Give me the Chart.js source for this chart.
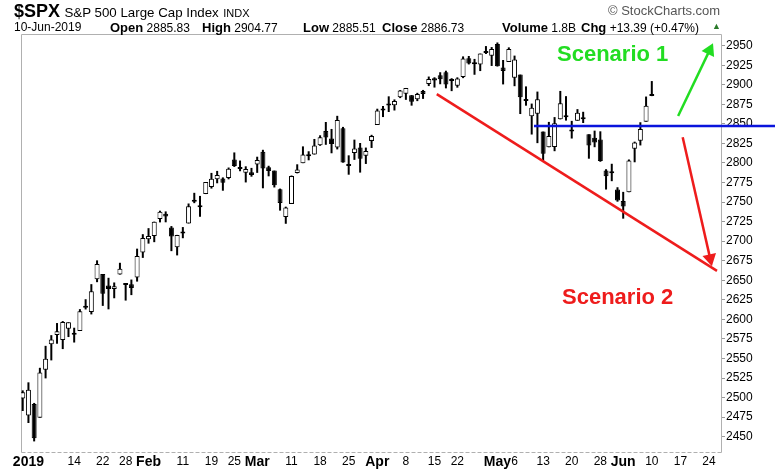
<!DOCTYPE html>
<html><head><meta charset="utf-8">
<script src="https://cdn.jsdelivr.net/npm/chart.js@4.4.1/dist/chart.umd.min.js"></script>
<style>
html,body{margin:0;padding:0;background:#fff;}
#wrap{position:relative;width:775px;height:470px;overflow:hidden;font-family:Arial,"Liberation Sans",sans-serif;color:#000;}
#c{position:absolute;left:0;top:0;}
.t{position:absolute;white-space:nowrap;line-height:1;}
.l2{font-size:12px;top:20.5px;}
.b{font-weight:bold;font-size:13px;}
.v{font-size:12px;}
.sc{position:absolute;white-space:nowrap;line-height:1;font-weight:bold;font-size:22px;}
</style></head><body>
<div id="wrap">
<canvas id="c" width="775" height="470"></canvas>
<div class="t" style="left:14px;top:2px;"><span style="font-weight:bold;font-size:18px">$SPX</span> <span style="font-size:13.3px">S&amp;P 500 Large Cap Index</span> <span style="font-size:11px">INDX</span></div>
<div class="t" style="left:608px;top:4px;font-size:13px;color:#555;">© StockCharts.com</div>
<div class="t l2" style="left:14px;"><span class="v">10-Jun-2019</span></div>
<div class="t l2" style="left:110px;"><span class="b">Open</span> <span class="v">2885.83</span></div>
<div class="t l2" style="left:202px;"><span class="b">High</span> <span class="v">2904.77</span></div>
<div class="t l2" style="left:303px;"><span class="b">Low</span> <span class="v">2885.51</span></div>
<div class="t l2" style="left:382px;"><span class="b">Close</span> <span class="v">2886.73</span></div>
<div class="t l2" style="left:502px;"><span class="b">Volume</span> <span class="v">1.8B</span></div>
<div class="t l2" style="left:581px;"><span class="b">Chg</span> <span class="v">+13.39 (+0.47%)</span></div>
<div class="t" style="left:712px;top:22px;font-size:9px;color:#2a7a2a;">▲</div>
<div class="sc" style="left:557px;top:43px;color:#22dd22;">Scenario 1</div>
<div class="sc" style="left:562px;top:286px;color:#ee1c1c;">Scenario 2</div>
</div>
<script>
const DATES = ['2018-12-31',
'2019-01-02','2019-01-03','2019-01-04','2019-01-07','2019-01-08','2019-01-09','2019-01-10','2019-01-11','2019-01-14','2019-01-15','2019-01-16','2019-01-17','2019-01-18','2019-01-22','2019-01-23','2019-01-24','2019-01-25','2019-01-28','2019-01-29','2019-01-30','2019-01-31',
'2019-02-01','2019-02-04','2019-02-05','2019-02-06','2019-02-07','2019-02-08','2019-02-11','2019-02-12','2019-02-13','2019-02-14','2019-02-15','2019-02-19','2019-02-20','2019-02-21','2019-02-22','2019-02-25','2019-02-26','2019-02-27','2019-02-28',
'2019-03-01','2019-03-04','2019-03-05','2019-03-06','2019-03-07','2019-03-08','2019-03-11','2019-03-12','2019-03-13','2019-03-14','2019-03-15','2019-03-18','2019-03-19','2019-03-20','2019-03-21','2019-03-22','2019-03-25','2019-03-26','2019-03-27','2019-03-28','2019-03-29',
'2019-04-01','2019-04-02','2019-04-03','2019-04-04','2019-04-05','2019-04-08','2019-04-09','2019-04-10','2019-04-11','2019-04-12','2019-04-15','2019-04-16','2019-04-17','2019-04-18','2019-04-22','2019-04-23','2019-04-24','2019-04-25','2019-04-26','2019-04-29','2019-04-30',
'2019-05-01','2019-05-02','2019-05-03','2019-05-06','2019-05-07','2019-05-08','2019-05-09','2019-05-10','2019-05-13','2019-05-14','2019-05-15','2019-05-16','2019-05-17','2019-05-20','2019-05-21','2019-05-22','2019-05-23','2019-05-24','2019-05-28','2019-05-29','2019-05-30','2019-05-31',
'2019-06-03','2019-06-04','2019-06-05','2019-06-06','2019-06-07','2019-06-10'];

const OPEN = [2498.94,
2476.96,2491.92,2474.33,2535.61,2568.11,2580.00,2573.51,2588.11,2580.31,2585.10,2614.75,2609.28,2651.27,2657.88,2643.48,2638.84,2657.44,2644.97,2644.89,2653.62,2685.49,
2702.32,2706.49,2728.34,2735.05,2717.53,2692.36,2712.40,2722.61,2750.30,2743.50,2760.24,2769.28,2779.05,2780.24,2780.67,2804.35,2792.36,2787.50,2788.11,
2798.22,2814.37,2794.41,2790.27,2766.53,2730.79,2747.61,2787.34,2799.78,2810.38,2810.79,2822.61,2840.76,2831.34,2819.72,2844.52,2796.01,2812.66,2819.72,2809.40,2828.27,
2848.63,2868.24,2876.09,2873.99,2884.16,2888.46,2886.58,2881.37,2891.92,2900.86,2908.32,2912.26,2916.04,2904.81,2898.78,2909.99,2934.00,2928.99,2925.81,2940.58,2937.14,
2952.33,2922.16,2929.21,2908.89,2913.03,2879.61,2859.84,2863.10,2840.19,2820.12,2820.38,2855.80,2858.60,2841.94,2854.02,2856.06,2836.70,2832.41,2830.03,2790.25,2786.94,2766.15,
2751.53,2762.64,2818.09,2828.51,2852.87,2885.83];

const HIGH = [2509.24,
2519.49,2493.14,2538.07,2566.16,2579.82,2595.32,2597.82,2596.27,2589.32,2613.08,2625.76,2645.06,2675.47,2657.88,2653.19,2647.20,2672.38,2644.97,2650.93,2690.44,2708.95,
2716.66,2724.99,2738.98,2738.08,2719.32,2708.07,2718.05,2748.19,2761.85,2757.90,2775.66,2787.33,2789.88,2781.58,2794.20,2813.49,2803.12,2795.76,2793.73,
2808.02,2816.88,2796.44,2790.27,2767.25,2744.13,2784.00,2798.32,2821.24,2815.00,2830.73,2835.41,2852.42,2843.54,2860.31,2846.16,2809.79,2829.87,2825.56,2819.71,2836.03,
2869.40,2872.90,2885.25,2881.28,2893.24,2895.95,2886.88,2889.71,2893.42,2910.54,2909.60,2916.06,2918.00,2908.40,2909.51,2936.31,2936.83,2933.10,2939.88,2949.52,2948.22,
2954.13,2931.68,2947.85,2937.32,2913.03,2897.96,2875.97,2891.31,2840.19,2852.54,2858.68,2892.15,2885.48,2853.86,2868.88,2865.47,2836.70,2841.36,2840.51,2792.03,2799.00,2768.98,
2763.07,2804.49,2827.28,2852.10,2884.97,2904.77];

const LOW = [2482.82,
2467.47,2443.96,2474.33,2524.56,2547.56,2568.89,2562.02,2577.40,2570.41,2585.10,2612.68,2606.36,2647.58,2617.27,2612.86,2627.01,2657.33,2624.06,2631.05,2648.34,2678.65,
2696.88,2698.75,2724.03,2724.15,2687.26,2681.83,2703.79,2722.61,2748.63,2731.23,2760.24,2767.29,2774.06,2764.55,2779.11,2794.99,2789.47,2775.13,2782.51,
2787.38,2767.66,2782.97,2768.69,2739.09,2722.27,2747.61,2786.73,2799.78,2803.46,2810.79,2821.99,2823.27,2812.43,2817.38,2800.47,2785.02,2803.99,2787.72,2798.77,2819.23,
2848.63,2858.75,2865.17,2867.14,2882.99,2880.78,2873.33,2879.13,2881.99,2898.37,2896.48,2900.71,2895.45,2891.90,2896.35,2908.53,2926.05,2912.84,2917.56,2939.35,2924.11,
2923.36,2900.50,2929.21,2898.21,2862.60,2873.28,2836.40,2825.39,2801.43,2820.12,2815.08,2855.80,2854.23,2831.29,2854.02,2851.11,2805.49,2820.19,2801.58,2766.06,2776.74,2750.52,
2728.81,2762.64,2800.92,2822.45,2852.87,2885.51];

const CLOSE = [2506.85,
2510.03,2447.89,2531.94,2549.69,2574.41,2584.96,2596.64,2596.26,2582.61,2610.30,2616.10,2635.96,2670.71,2632.90,2638.70,2642.33,2664.76,2643.85,2640.00,2681.05,2704.10,
2706.53,2724.87,2737.70,2731.61,2706.05,2707.88,2709.80,2744.73,2753.03,2745.73,2775.60,2779.76,2784.70,2774.88,2792.67,2796.11,2793.90,2792.38,2784.49,
2803.69,2792.81,2789.65,2771.45,2748.93,2743.07,2783.30,2791.52,2810.92,2808.48,2822.48,2832.94,2832.57,2824.23,2854.88,2800.71,2798.36,2818.46,2805.37,2815.44,2834.40,
2867.19,2867.24,2873.40,2879.39,2892.74,2895.77,2878.20,2888.21,2888.32,2907.41,2905.58,2907.06,2900.45,2905.03,2907.97,2933.68,2927.25,2926.17,2939.88,2943.03,2945.83,
2923.73,2917.52,2945.64,2932.47,2884.05,2879.42,2870.72,2881.40,2811.87,2834.41,2850.96,2876.32,2859.53,2840.23,2864.36,2856.27,2822.24,2826.06,2802.39,2783.02,2788.86,2752.06,
2744.45,2803.27,2826.15,2843.49,2873.34,2886.73];

// x-axis tick positions (trading-day index) and labels
const X_TICK_POS    = [1,9,14,18,22,28,33,37,41,47,52,57,62,67,72,76,83,86,91,96,101,105,110,115,120];
const X_TICK_LABELS = ['2019','14','22','28','Feb','11','19','25','Mar','11','18','25','Apr','8','15','22','May','6','13','20','28','Jun','10','17','24'];
const Y_TICKS = [2450,2475,2500,2525,2550,2575,2600,2625,2650,2675,2700,2725,2750,2775,2800,2825,2850,2875,2900,2925,2950];

// annotation lines (x = trading-day index, y = index level)
const TREND_X = [72.4, 121.4];   const TREND_Y = [2888, 2662];
const SUPPORT_X = [89.4, 131.6]; const SUPPORT_Y = [2847.3, 2847.3];
const UP_X = [114.6, 120.1];     const UP_Y = [2860, 2944];
const DOWN_X = [115.4, 120.2];   const DOWN_Y = [2833, 2678];

const pts = (xs, ys) => xs.map((x, i) => ({x: x, y: ys[i]}));

function arrowRot(c) {
  const d = c.dataset.data, xs = c.chart.scales.x, ys = c.chart.scales.y;
  const x0 = xs.getPixelForValue(d[0].x), y0 = ys.getPixelForValue(d[0].y);
  const x1 = xs.getPixelForValue(d[1].x), y1 = ys.getPixelForValue(d[1].y);
  return Math.atan2(x1 - x0, -(y1 - y0)) * 180 / Math.PI;
}

const frame = {
  id: 'frame',
  beforeDatasetsDraw(chart) {
    const a = chart.chartArea, ctx = chart.ctx;
    ctx.save();
    ctx.strokeStyle = '#b0b0b0';
    ctx.lineWidth = 1;
    ctx.beginPath();
    ctx.moveTo(Math.round(a.left) + 0.5, Math.round(a.bottom) + 0.5);
    ctx.lineTo(Math.round(a.left) + 0.5, Math.round(a.top) + 0.5);
    ctx.lineTo(Math.round(a.right) + 0.5, Math.round(a.top) + 0.5);
    ctx.lineTo(Math.round(a.right) + 0.5, Math.round(a.bottom) + 0.5);
    ctx.stroke();
    ctx.setLineDash([4, 2]);
    ctx.beginPath();
    ctx.moveTo(Math.round(a.left) + 0.5, Math.round(a.bottom) + 0.5);
    ctx.lineTo(Math.round(a.right) + 0.5, Math.round(a.bottom) + 0.5);
    ctx.stroke();
    ctx.restore();
  }
};

const lineDs = (xs, ys, color, arrow) => ({
  type: 'line',
  data: pts(xs, ys),
  borderColor: color,
  backgroundColor: color,
  borderWidth: 2.5,
  fill: false,
  tension: 0,
  clip: false,
  order: -1,
  pointStyle: 'triangle',
  pointRadius: arrow ? (c => c.dataIndex === 1 ? 8 : 0) : 0,
  pointBorderWidth: 0,
  pointBackgroundColor: color,
  pointRotation: arrow ? arrowRot : 0
});

new Chart(document.getElementById('c'), {
  type: 'bar',
  data: {
    datasets: [
      lineDs(TREND_X, TREND_Y, '#ee1c1c', false),
      lineDs(SUPPORT_X, SUPPORT_Y, '#0a14dc', false),
      lineDs(UP_X, UP_Y, '#22dd22', true),
      lineDs(DOWN_X, DOWN_Y, '#ee1c1c', true),
      {
        label: 'body',
        data: DATES.map((d, i) => ({x: i, y: [Math.min(OPEN[i], CLOSE[i]), Math.max(OPEN[i], CLOSE[i])]})),
        backgroundColor: c => (CLOSE[c.dataIndex] < OPEN[c.dataIndex] ? '#000' : '#fff'),
        borderColor: '#000',
        borderWidth: 1,
        borderSkipped: false,
        barThickness: 5,
        minBarLength: 2,
        inflateAmount: 0,
        grouped: false,
        order: 0
      },
      {
        label: 'wick',
        data: DATES.map((d, i) => ({x: i, y: [LOW[i], HIGH[i]]})),
        backgroundColor: '#000',
        borderWidth: 0,
        barThickness: 2,
        inflateAmount: 0,
        grouped: false,
        order: 1
      }
    ]
  },
  options: {
    responsive: false,
    animation: false,
    events: [],
    layout: {padding: {left: 21, top: 34, right: 0, bottom: 0}},
    plugins: {legend: {display: false}, tooltip: {enabled: false}},
    scales: {
      x: {
        type: 'linear', min: -0.3, max: 122.1, offset: false,
        grid: {display: false, drawTicks: false, tickLength: 0}, border: {display: false},
        afterBuildTicks: s => { s.ticks = X_TICK_POS.map(v => ({value: v})); },
        afterFit: s => { s.height = 18; },
        ticks: {
          autoSkip: false, maxRotation: 0, minRotation: 0, padding: 2, color: '#000',
          callback: v => { const k = X_TICK_POS.indexOf(v); return k >= 0 ? X_TICK_LABELS[k] : ''; },
          font: c => {
            const lbl = X_TICK_LABELS[c.index] || '';
            const bold = !/^\d{1,2}$/.test(lbl);
            return {family: 'Arial, "Liberation Sans", sans-serif', size: bold ? 14 : 12, weight: bold ? 'bold' : 'normal'};
          }
        }
      },
      y: {
        position: 'right', min: 2430.4, max: 2964.96,
        afterBuildTicks: s => { s.ticks = Y_TICKS.map(v => ({value: v})); },
        afterFit: s => { s.width = 54; },
        grid: {drawOnChartArea: false, tickLength: 4, color: '#999'},
        border: {display: false},
        ticks: {padding: 1, color: '#000', font: {family: 'Arial, "Liberation Sans", sans-serif', size: 12}, callback: v => String(v)}
      }
    }
  },
  plugins: [frame]
});
</script>
</body></html>
